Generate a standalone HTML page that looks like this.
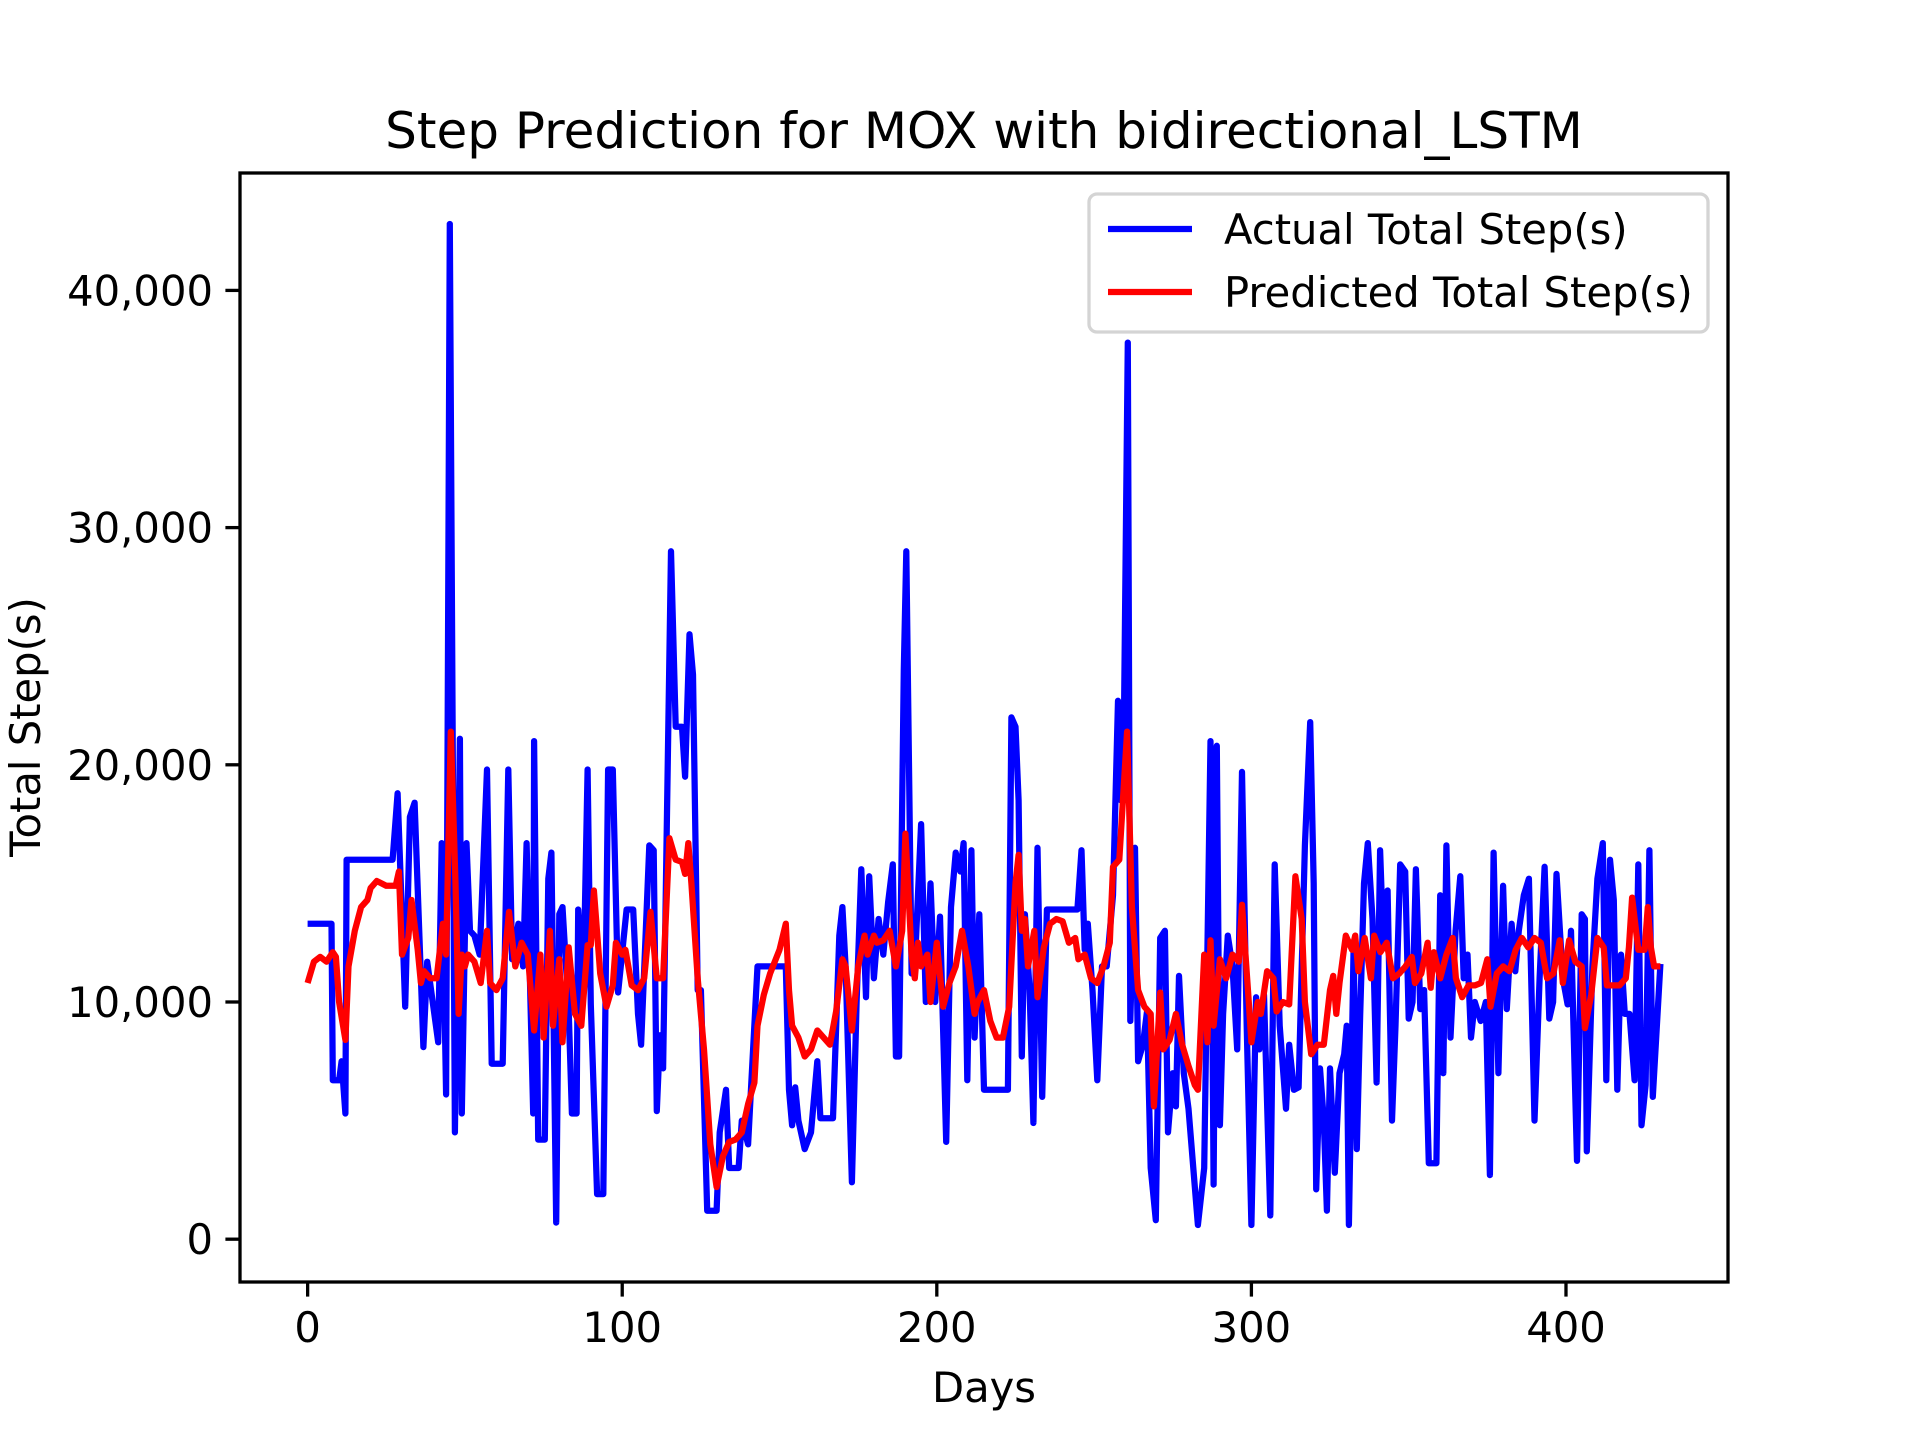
<!DOCTYPE html>
<html><head><meta charset="utf-8"><style>
html,body{margin:0;padding:0;background:#fff;}
svg{display:block;font-family:"DejaVu Sans","Liberation Sans",sans-serif;}
</style></head><body>
<svg id="chart" width="1920" height="1440" viewBox="0 0 1920 1440" xmlns="http://www.w3.org/2000/svg">
<rect x="0" y="0" width="1920" height="1440" fill="#fff"/>
<text x="984" y="148" font-size="50" text-anchor="middle">Step Prediction for MOX with bidirectional_LSTM</text>
<g id="plot"></g>
<g id="axes"></g>
<text x="984" y="1402" font-size="41.7" text-anchor="middle">Days</text>
<text x="0" y="0" font-size="41.7" text-anchor="middle" transform="translate(40,727) rotate(-90)">Total Step(s)</text>
<g>
<rect x="1089" y="194" width="619" height="138" rx="8" fill="#fff" fill-opacity="0.8" stroke="#d4d4d4" stroke-width="3.3"/>
<line x1="1108" y1="229" x2="1192" y2="229" stroke="#0000ff" stroke-width="6.25"/>
<text x="1224" y="244" font-size="41.7">Actual Total Step(s)</text>
<line x1="1108" y1="292" x2="1192" y2="292" stroke="#ff0000" stroke-width="6.25"/>
<text x="1224" y="307" font-size="41.7">Predicted Total Step(s)</text>
</g>
</svg>
<script>
const actualDays=[0,7.6,8,10,10.8,12,12.4,27,28.6,31,32.5,34,36.8,38,41.5,42.6,44,45.2,46.8,48.4,49,50.5,51.6,53,54.7,57,58.5,62,63.8,65,67,68.5,69.6,71.7,72,73.3,75.4,76.5,77.5,79,80,81,83,84,85.5,86,87.6,89,90,92,94,95.5,97,98.7,101.4,103.5,105,106,108.6,110,111,112,113,115.5,117,119,120,121.4,122.5,124,125,127,130,131,133,134,137,138,140,141,143,152,153,154,155,156,158,160,162,163,167,169,170,171,173,174.5,176,177.5,178.5,180,181.5,183,184.5,186,187,188,189.5,190.3,192,193,195,196.5,198,199.5,201,203,204.5,206,207.5,208.5,209.7,211,212,213.5,215,222.6,223.7,225,226,227,228,229.5,230.7,232,233.5,235,244.7,246,247,248,249.5,251,252.5,254,256,257.6,258.5,259.5,260.7,261.5,263,264,265.5,266.8,268,269.6,271,272.5,273.5,275,276,277,278.5,280,283,285,287,288,289,290,291,292.5,294,295.5,297,298.5,300,301.5,302.5,304,306,307.4,309,311,312,313.5,315,317,318.7,319.8,320.6,321.8,323,324,325,326.5,328,329.5,330.3,331,332.5,333.5,334.6,335.8,337,338.5,339.8,340.9,342,343.3,344.7,345.8,347.3,348.9,350,351.2,352.3,353.7,354.9,356.4,358.8,360,361,362,363.3,364.9,366.4,367.5,368.7,369.8,371,372.9,374.5,375.8,377,378.5,380,381.2,382.7,383.9,385,386.6,388.2,390,391.6,393.2,394.7,395.9,397,399,400.5,401.6,403.5,405,406,406.6,408.4,410,411.7,412.8,414,415.2,416.3,417.5,418.7,420.2,421.8,423,424,425.3,426.5,427.6,430];
const actualSteps=[13300,13300,6700,6700,7500,5300,16000,16000,18800,9800,17800,18400,8100,11700,8300,16700,6100,42800,4500,21100,5300,16700,13000,12800,12000,19800,7400,7400,19800,11800,13300,11500,16700,5300,21000,4200,4200,15200,16300,700,13700,14000,9600,5300,5300,13900,10200,19800,9900,1900,1900,19800,19800,10400,13900,13900,9500,8200,16600,16400,5400,8600,7200,29000,21600,21600,19500,25500,23800,10500,10500,1200,1200,4500,6300,3000,3000,5000,4000,6500,11500,11500,6300,4800,6400,5000,3800,4500,7500,5100,5100,12800,14000,11500,2400,10000,15600,10200,15300,11000,13500,12000,14200,15800,7700,7700,24000,29000,11200,11500,17500,10000,15000,10000,13600,4100,14000,16300,15500,16700,6700,16400,8500,13700,6300,6300,22000,21600,18500,7700,13700,10500,4900,16500,6000,13900,13900,16400,12200,13300,10500,6700,11500,11500,14500,22700,18500,22000,37800,9200,16500,7500,8200,9600,3000,800,12700,13000,4500,7000,5600,11100,7000,5500,600,3000,21000,2300,20800,4800,9500,12800,11500,8000,19700,9000,600,10200,8000,10300,1000,15800,9000,5500,8200,6300,6400,16600,21800,15000,2100,7200,5000,1200,7200,2800,7000,7800,9000,600,12300,3800,9500,15000,16700,13500,6600,16400,12300,14700,5000,9000,15800,15500,9300,10000,15600,9700,10500,3200,3200,14500,7000,16600,8500,13000,15300,11000,12000,8500,10000,9200,10000,2700,16300,7000,14900,9700,13300,11300,13000,14500,15200,5000,11000,15700,9300,10000,15400,11000,9900,13000,3300,13700,13500,3700,11500,15200,16700,6700,16000,14300,6300,12000,9500,9500,6700,15800,4800,6500,16400,6000,11600];
const predDays=[0,2,4,6,8,9,10,12,13,15,17,19,20,22,25,28,29,30,32,33,35,36,37,39,41,43,44,45.5,47,48,49,50,51,53,55,57,58,60,62,64,66,68,70,72,74,75,77,78,80,81,83,85,87,89,90,91,93,95,97,98,100,101,103,105,107,109,111,113,115,117,119,120,121,122,124,126,128,130,132,134,136,138,140,142,143,145,147,150,152,153,154,156,158,160,162,164,166,168,170,171,173,175,177,178,180,181,183,185,187,189,190,192,193,194,195,197,198,200,202,204,206,208,210,212,213,215,217,219,221,223,225,226,227,228,229,231,232,234,236,238,240,242,244,245,247,249,251,253,255,256,258,260.5,262,264,266,268,269,271,272,274,276,278,280,282,283,285,286,287,288,290,292,294,296,297,299,300,302,303,305,307,308,310,312,314,316,317,319,321,323,325,326,327,328,330,332,333,334,336,338,339,341,343,345,347,349,351,352,354,356,357,358,360,362,364,365,367,369,371,373,375,376,378,380,382,384,386,388,390,392,394,396,398,399,401,403,405,406,408,410,412,413,415,417,419,420,421,423,425,426,427,428,430];
const predSteps=[10800,11700,11900,11700,12100,11900,10000,8400,11500,13000,14000,14300,14800,15100,14900,14900,15500,12000,12700,14300,12200,10800,11300,11000,11000,13300,12000,21400,15000,9500,12000,11500,12000,11700,10800,13000,10800,10500,11000,13800,11500,12500,12000,8800,12000,8500,13000,9000,11800,8300,12300,9500,9000,12400,12400,14700,11200,9800,10700,12500,12000,12200,10700,10500,11000,13800,11000,11000,16900,16000,15900,15400,16700,15000,11000,8000,4000,2200,3500,4100,4200,4500,5700,6600,9000,10300,11200,12200,13300,10500,9000,8500,7700,8000,8800,8500,8200,9600,11800,11500,8800,11500,12800,12000,12800,12500,12600,13000,11500,13000,17100,12000,11000,12500,11500,12000,10000,12500,9800,10800,11500,13000,11500,9500,10000,10500,9200,8500,8500,9800,15000,16200,13000,13500,11500,13000,10200,12300,13300,13500,13400,12500,12700,11800,12000,11000,10800,11500,12500,15700,16000,21400,14000,10500,9800,9500,5600,10400,8000,8400,9500,8200,7300,6500,6300,12000,8300,12600,9000,11800,11000,12000,11700,14100,10300,8300,10000,9500,11300,11000,9600,10000,9900,15300,13500,10000,7800,8200,8200,10500,11100,9500,10800,12800,12200,12800,11300,12700,11000,12800,12100,12500,11000,11200,11500,11900,10800,11200,12500,10600,12100,11000,12000,12700,11000,10200,10700,10700,10800,11800,9800,11200,11500,11300,12200,12700,12300,12700,12500,11000,11200,12600,10800,12600,11700,11500,8900,10300,12700,12300,10700,10700,10700,11000,12300,14400,12200,12200,14000,12300,11500,11500];
const xTicks=[0,100,200,300,400];
const yTicks=[0,10000,20000,30000,40000];
const yTickLabels=["0","10,000","20,000","30,000","40,000"];

const L=240,R=1728,T=173,B=1282;
const XMIN=-21.5,XMAX=451.5,YMIN=-1805,YMAX=44950;
function sx(d){return L+(d-XMIN)/(XMAX-XMIN)*(R-L);}
function sy(v){return B-(v-YMIN)/(YMAX-YMIN)*(B-T);}
const NS="http://www.w3.org/2000/svg";
const plot=document.getElementById('plot');
const axes=document.getElementById('axes');

const clip=document.createElementNS(NS,'clipPath');clip.setAttribute('id','clipA');
const cr=document.createElementNS(NS,'rect');cr.setAttribute('x',L);cr.setAttribute('y',T);cr.setAttribute('width',R-L);cr.setAttribute('height',B-T);
clip.appendChild(cr);plot.appendChild(clip);

function series(days,vals,color,name){
  const p=document.createElementNS(NS,'path');
  let d='';
  for(let i=0;i<days.length;i++){d+=(i?'L':'M')+sx(days[i]).toFixed(1)+' '+sy(vals[i]).toFixed(1);}
  p.setAttribute('d',d);p.setAttribute('fill','none');p.setAttribute('stroke',color);
  p.setAttribute('stroke-width','6.25');p.setAttribute('stroke-linejoin','round');
  p.setAttribute('clip-path','url(#clipA)');
  
  
  plot.appendChild(p);
}
series(actualDays,actualSteps,'#0000ff','actual-steps-line');
series(predDays,predSteps,'#ff0000','predicted-steps-line');

const frame=document.createElementNS(NS,'rect');
frame.setAttribute('x',L);frame.setAttribute('y',T);frame.setAttribute('width',R-L);frame.setAttribute('height',B-T);
frame.setAttribute('fill','none');frame.setAttribute('stroke','#000');frame.setAttribute('stroke-width','3.3');


axes.appendChild(frame);

xTicks.forEach(function(t){
  const x=sx(t);
  const ln=document.createElementNS(NS,'line');
  ln.setAttribute('x1',x);ln.setAttribute('x2',x);ln.setAttribute('y1',B);ln.setAttribute('y2',B+14.6);
  ln.setAttribute('stroke','#000');ln.setAttribute('stroke-width','3.3');
  
  
  axes.appendChild(ln);
  const tx=document.createElementNS(NS,'text');
  tx.setAttribute('x',x);tx.setAttribute('y',B+60);tx.setAttribute('font-size','41.7');tx.setAttribute('text-anchor','middle');
  tx.textContent=String(t);
  
  
  axes.appendChild(tx);
});
yTicks.forEach(function(t,i){
  const y=sy(t);
  const ln=document.createElementNS(NS,'line');
  ln.setAttribute('x1',L-14.6);ln.setAttribute('x2',L);ln.setAttribute('y1',y);ln.setAttribute('y2',y);
  ln.setAttribute('stroke','#000');ln.setAttribute('stroke-width','3.3');
  
  
  axes.appendChild(ln);
  const tx=document.createElementNS(NS,'text');
  tx.setAttribute('x',L-27);tx.setAttribute('y',y+15);tx.setAttribute('font-size','41.7');tx.setAttribute('text-anchor','end');
  tx.textContent=yTickLabels[i];
  
  
  axes.appendChild(tx);
});
</script>
</body></html>
